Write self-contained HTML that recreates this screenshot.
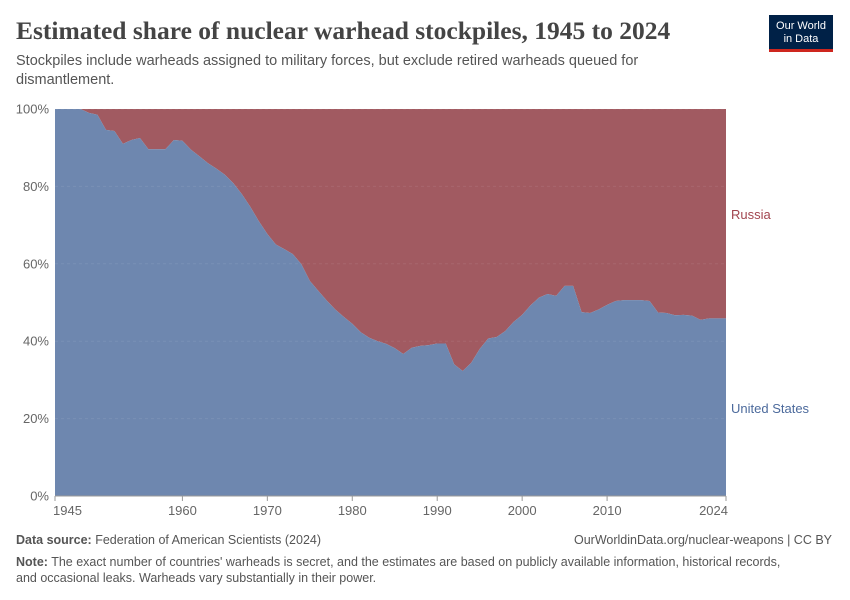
<!DOCTYPE html>
<html><head><meta charset="utf-8"><style>
body{margin:0;background:#fff;font-family:"Liberation Sans",sans-serif;}
#wrap{position:relative;width:850px;height:600px;overflow:hidden;}
.t{position:absolute;white-space:nowrap;}
</style></head><body>
<div id="wrap">
<div class="t" style="left:16px;top:16px;font-family:'Liberation Serif',serif;font-size:25.5px;font-weight:bold;color:#444;">Estimated share of nuclear warhead stockpiles, 1945 to 2024</div>
<div class="t" style="left:16px;top:52px;font-size:14.5px;color:#555;line-height:19px;white-space:normal;width:680px;">Stockpiles include warheads assigned to military forces, but exclude retired warheads queued for dismantlement.</div>
<div style="position:absolute;left:769px;top:15px;width:64px;height:37px;background:#002147;border-bottom:3px solid #ce261e;color:#fff;font-size:11px;line-height:13px;text-align:center;padding-top:5px;box-sizing:border-box;">Our World<br>in Data</div>
<svg id="chart" width="850" height="600" style="position:absolute;left:0;top:0"></svg>
<div class="t" style="left:16px;top:533px;font-size:12.5px;color:#555;"><b>Data source:</b> Federation of American Scientists (2024)</div>
<div class="t" style="right:18px;top:533px;font-size:12.5px;color:#555;">OurWorldinData.org/nuclear-weapons | CC BY</div>
<div class="t" style="left:16px;top:554px;font-size:12.5px;color:#555;line-height:16px;white-space:normal;width:775px;"><b>Note:</b> The exact number of countries' warheads is secret, and the estimates are based on publicly available information, historical records, and occasional leaks. Warheads vary substantially in their power.</div>
</div>
<script>
const years=[];for(let y=1945;y<=2024;y++)years.push(y);
const usShare=[100,100,100,100,99,98.5,94.6,94.3,91,92,92.5,89.6,89.6,89.6,92,91.8,89.5,87.8,86,84.6,83,80.8,78,74.7,71,67.7,65,63.8,62.5,59.9,55.6,53,50.5,48.2,46.3,44.5,42.3,40.9,40,39.3,38.2,36.7,38.3,38.8,39,39.4,39.4,34,32.3,34.4,38,40.7,41.1,42.6,45,46.8,49.3,51.3,52.2,51.7,54.3,54.3,47.5,47.3,48.2,49.4,50.4,50.6,50.6,50.6,50.4,47.4,47.3,46.7,46.8,46.6,45.5,45.9,45.9,45.9];
const yTicks=[0,20,40,60,80,100];
const xTicks=[1945,1960,1970,1980,1990,2000,2010,2024];
const NS="http://www.w3.org/2000/svg";
const svg=document.getElementById('chart');
const X0=55,X1=726,Y0=496,Y1=109;
const xs=y=>X0+(y-1945)/(2024-1945)*(X1-X0);
const ys=v=>Y0-v/100*(Y0-Y1);
function mk(tag,attrs){const e=document.createElementNS(NS,tag);for(const k in attrs)e.setAttribute(k,attrs[k]);svg.appendChild(e);return e;}
let rp='M'+xs(1945)+','+ys(100);
years.forEach((y,i)=>{rp+=' L'+xs(y)+','+ys(usShare[i]);});
rp+=' L'+xs(2024)+','+ys(100)+' Z';
const ra=mk('path',{d:rp,fill:'#a15a61'});


let up='M'+xs(1945)+','+ys(0);
years.forEach((y,i)=>{up+=' L'+xs(y)+','+ys(usShare[i]);});
up+=' L'+xs(2024)+','+ys(0)+' Z';
const ua=mk('path',{d:up,fill:'#6e87af'});


yTicks.forEach(v=>{
 const g=mk('line',{x1:X0,x2:X1,y1:ys(v),y2:ys(v),stroke:'rgba(255,255,255,0.08)','stroke-dasharray':'3,3'});
 
 
 const t=mk('text',{x:49,y:ys(v)+4.5,'text-anchor':'end','font-size':13,fill:'#666','font-family':'Liberation Sans, sans-serif'});
 t.textContent=v+'%';
 
 
});
const ax=mk('line',{x1:X0,x2:X1,y1:Y0,y2:Y0,stroke:'#999'});


xTicks.forEach((yr,i)=>{
 const tk=mk('line',{x1:xs(yr),x2:xs(yr),y1:Y0,y2:Y0+5,stroke:'#999'});
 
 
 const anchor=i===0?'start':(i===xTicks.length-1?'end':'middle');
 const xx=i===0?xs(yr)-2:(i===xTicks.length-1?xs(yr)+2:xs(yr));
 const t=mk('text',{x:xx,y:Y0+19,'text-anchor':anchor,'font-size':13,fill:'#666','font-family':'Liberation Sans, sans-serif'});
 t.textContent=yr;
 
 
});
const l1=mk('text',{x:731,y:219,'font-size':13,fill:'#a2454f','font-family':'Liberation Sans, sans-serif'});
l1.textContent='Russia';


const l2=mk('text',{x:731,y:413,'font-size':13,fill:'#4c6a9c','font-family':'Liberation Sans, sans-serif'});
l2.textContent='United States';


</script>
</body></html>
